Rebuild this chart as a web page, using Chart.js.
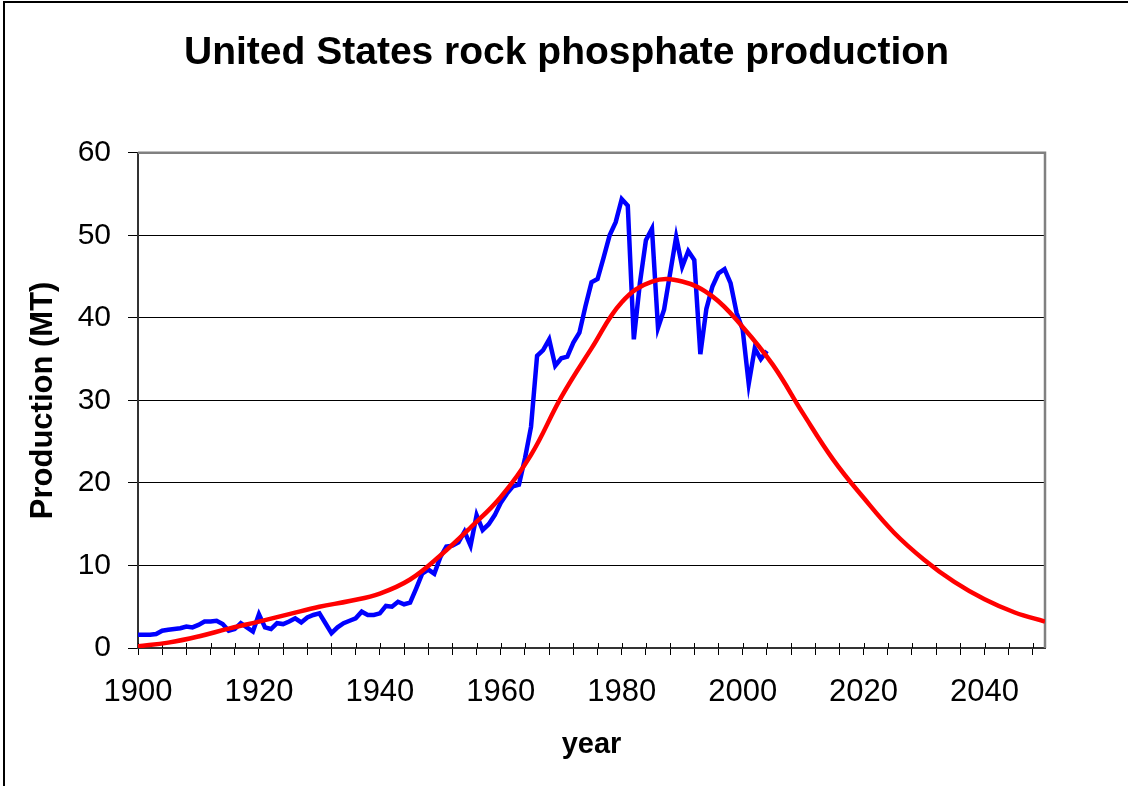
<!DOCTYPE html>
<html>
<head>
<meta charset="utf-8">
<title>United States rock phosphate production</title>
<script src="https://cdn.jsdelivr.net/npm/chart.js@4.4.1/dist/chart.umd.min.js"></script>
<style>
  html, body { margin: 0; padding: 0; background: #fff; }
  canvas { display: block; }
</style>
</head>
<body>
<canvas id="grafico" width="1133" height="786"></canvas>
<script>
// Production, one value per year (MT)
const anos = [];
for (let a = 1900; a <= 2004; a++) anos.push(a);
const producao = [
  1.6, 1.6, 1.6, 1.7, 2.1, 2.2, 2.3, 2.4, 2.6, 2.5,        // 1900-1909
  2.8, 3.2, 3.2, 3.3, 2.9, 2.1, 2.3, 3.0, 2.5, 2.0,        // 1910-1919
  4.1, 2.5, 2.3, 3.0, 2.9, 3.2, 3.6, 3.1, 3.7, 4.0,        // 1920-1929
  4.2, 3.0, 1.8, 2.5, 3.0, 3.3, 3.6, 4.4, 4.0, 4.0,        // 1930-1939
  4.2, 5.1, 5.0, 5.6, 5.3, 5.5, 7.2, 9.0, 9.5, 9.0,        // 1940-1949
  11.0, 12.3, 12.4, 12.8, 14.1, 12.4, 16.1, 14.3, 15.0, 16.1, // 1950-1959
  17.6, 18.7, 19.6, 19.8, 23.0, 26.8, 35.4, 36.1, 37.4, 34.2, // 1960-1969
  35.1, 35.3, 37.0, 38.2, 41.4, 44.3, 44.7, 47.3, 50.0, 51.6, // 1970-1979
  54.4, 53.6, 37.4, 44.2, 49.4, 50.8, 38.8, 41.0, 45.4, 49.8, // 1980-1989
  46.2, 48.1, 47.0, 35.6, 41.1, 43.8, 45.4, 45.9, 44.2, 40.6, // 1990-1999
  38.6, 32.0, 36.3, 35.0, 36.0                               // 2000-2004
];

// Fitted curve, read every 5 years
const anosAjuste = [1900, 1905, 1910, 1915, 1920, 1925, 1930, 1935, 1940, 1945,
  1950, 1955, 1960, 1965, 1970, 1975, 1980, 1985, 1990, 1995,
  2000, 2005, 2010, 2015, 2020, 2025, 2030, 2035, 2040, 2045, 2050];
const ajuste = [0.2, 0.65, 1.4, 2.35, 3.2, 4.1, 5.0, 5.7, 6.6, 8.3,
  11.2, 14.6, 18.3, 23.4, 30.4, 36.3, 41.9, 44.4, 44.4, 42.6,
  38.9, 34.3, 28.4, 22.8, 18.2, 14.0, 10.7, 8.0, 5.9, 4.3, 3.2];

const ticksY = [0, 10, 20, 30, 40, 50, 60];
const fonte = "'Liberation Sans', Arial, sans-serif";

// Moldura da área do gráfico, traços internos e borda externa
const moldura = {
  id: 'moldura',
  beforeDatasetsDraw(chart) {
    const { ctx, chartArea: a } = chart;
    ctx.save();
    ctx.strokeStyle = '#808080';
    ctx.lineWidth = 2.5;
    ctx.beginPath();
    ctx.moveTo(a.left, a.top);
    ctx.lineTo(a.right, a.top);
    ctx.lineTo(a.right, a.bottom);
    ctx.stroke();

    const sx = chart.scales.x;
    ctx.strokeStyle = '#000';
    ctx.lineWidth = 1;
    ctx.beginPath();
    sx.ticks.forEach(t => {
      const px = Math.round(sx.getPixelForValue(t.value)) + 0.5;
      ctx.moveTo(px, a.bottom - 5);
      ctx.lineTo(px, a.bottom);
    });
    ctx.stroke();

    ctx.lineWidth = 2;
    ctx.beginPath();
    ctx.moveTo(4, chart.height);
    ctx.lineTo(4, 2);
    ctx.lineTo(1128, 2);
    ctx.stroke();
    ctx.restore();
  }
};

new Chart(document.getElementById('grafico'), {
  type: 'line',
  data: {
    datasets: [
      {
        label: 'ajuste',
        data: anosAjuste.map((a, i) => ({ x: a, y: ajuste[i] })),
        borderColor: '#FF0000',
        borderWidth: 4.5,
        pointRadius: 0,
        tension: 0.4,
        fill: false
      },
      {
        label: 'produção',
        data: anos.map((a, i) => ({ x: a, y: producao[i] })),
        borderColor: '#0000FF',
        borderWidth: 4.5,
        pointRadius: 0,
        tension: 0,
        fill: false
      }
    ]
  },
  options: {
    responsive: false,
    animation: false,
    layout: { padding: 0 },
    plugins: {
      legend: { display: false },
      tooltip: { enabled: false },
      title: {
        display: true,
        text: 'United States rock phosphate production',
        color: '#000',
        font: { family: fonte, size: 39, weight: 'bold' },
        padding: { top: 30, bottom: 76 }
      }
    },
    scales: {
      x: {
        type: 'linear',
        min: 1900,
        max: 2050,
        afterBuildTicks: s => {
          const t = [];
          for (let v = 1900; v < 2050; v += 4) t.push({ value: v });
          s.ticks = t;
        },
        afterFit: s => { s.height = 138; },
        ticks: {
          autoSkip: false,
          maxRotation: 0,
          padding: 19,
          color: '#000',
          font: { family: fonte, size: 31 },
          callback: v => (v % 20 === 0 ? String(v) : '')
        },
        grid: {
          drawOnChartArea: false,
          drawTicks: true,
          tickLength: 7,
          tickColor: '#000'
        },
        border: { color: '#333', width: 2 },
        title: {
          display: true,
          text: 'year',
          color: '#000',
          font: { family: fonte, size: 29, weight: 'bold' },
          padding: { top: 0, bottom: 24 }
        }
      },
      y: {
        min: 0,
        max: 60,
        afterBuildTicks: s => { s.ticks = ticksY.map(v => ({ value: v })); },
        afterFit: s => { s.width = 138; },
        ticks: {
          padding: 17,
          color: '#000',
          font: { family: fonte, size: 30 }
        },
        grid: {
          color: c => (c.tick && c.tick.value === 60 ? '#808080' : '#000'),
          lineWidth: 1,
          tickLength: 10,
          tickColor: '#000'
        },
        border: { color: '#333', width: 2 },
        title: {
          display: true,
          text: 'Production (MT)',
          color: '#000',
          font: { family: fonte, size: 31, weight: 'bold' },
          padding: { top: 25, bottom: 0 }
        }
      },
      y2: {
        position: 'right',
        min: 0,
        max: 60,
        ticks: { display: false },
        grid: { display: false },
        border: { display: false },
        afterFit: s => { s.width = 88; }
      }
    }
  },
  plugins: [moldura]
});
</script>
</body>
</html>
